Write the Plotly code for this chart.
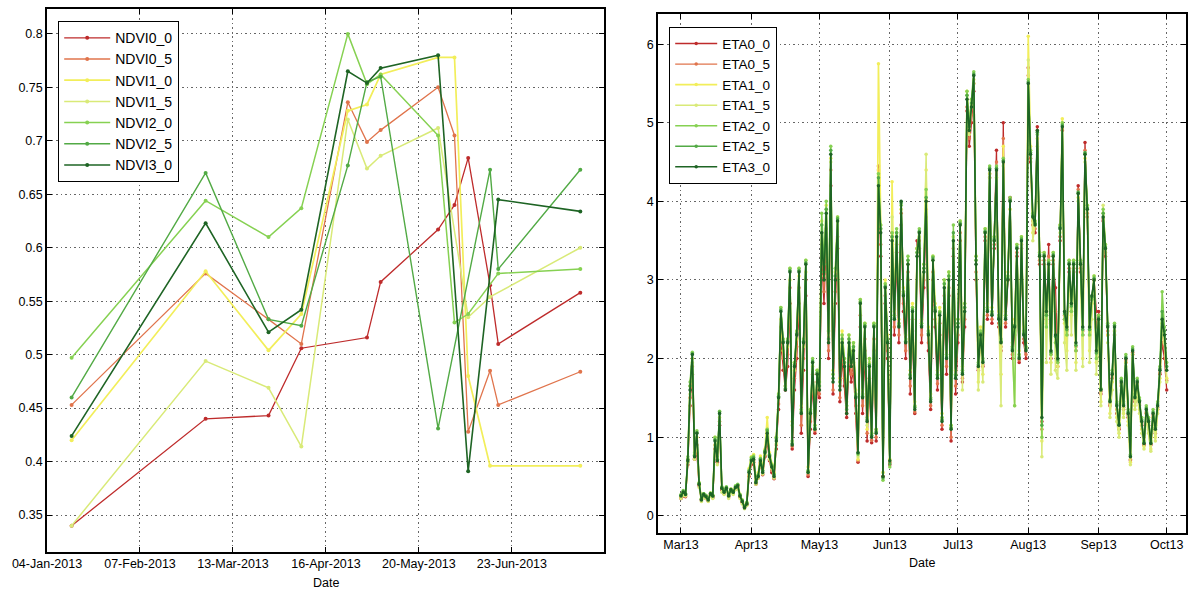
import plotly.graph_objects as go
import pandas as pd

# ---------------- NDVI (left panel) ----------------
ndvi_dates = ["2013-01-13", "2013-03-03", "2013-03-26", "2013-04-07", "2013-04-24",
              "2013-05-01", "2013-05-06", "2013-05-27", "2013-06-02", "2013-06-07",
              "2013-06-15", "2013-06-18", "2013-07-18"]
NDVI0_0 = [0.340, 0.440, 0.443, 0.506, None, 0.516, 0.568, 0.617, 0.640, 0.684, 0.565, 0.510, 0.558]
NDVI0_5 = [0.453, 0.576, 0.533, 0.510, 0.736, 0.699, 0.710, 0.750, 0.705, 0.428, 0.485, 0.453, 0.484]
NDVI1_0 = [0.420, 0.578, 0.504, 0.538, 0.728, 0.734, 0.762, 0.778, 0.778, 0.480, 0.396, None, 0.396]
NDVI1_5 = [0.340, 0.494, 0.469, 0.414, 0.720, 0.674, 0.686, 0.712, None, 0.535, 0.554, None, 0.600]
NDVI2_0 = [0.497, 0.644, 0.610, 0.637, 0.800, 0.753, 0.762, 0.705, 0.530, 0.538, None, 0.576, 0.580]
NDVI2_5 = [0.460, 0.670, 0.533, 0.527, 0.677, 0.755, 0.760, 0.431, None, None, 0.673, 0.580, 0.673]
NDVI3_0 = [0.424, 0.623, 0.521, 0.542, 0.765, 0.754, 0.768, 0.780, None, 0.391, None, 0.645, 0.634]

ndvi_names = ["NDVI0_0", "NDVI0_5", "NDVI1_0", "NDVI1_5", "NDVI2_0", "NDVI2_5", "NDVI3_0"]
ndvi_ticks = ["2013-01-04", "2013-02-07", "2013-03-13", "2013-04-16", "2013-05-20", "2013-06-23"]
ndvi_ticktext = ["04-Jan-2013", "07-Feb-2013", "13-Mar-2013", "16-Apr-2013", "20-May-2013", "23-Jun-2013"]
ndvi_yticks = [0.35, 0.4, 0.45, 0.5, 0.55, 0.6, 0.65, 0.7, 0.75, 0.8]
ndvi_yticktext = ["0.35", "0.4", "0.45", "0.5", "0.55", "0.6", "0.65", "0.7", "0.75", "0.8"]

# ---------------- ETA (right panel), daily from 2013-03-01 ----------------
eta_start = "2013-03-01"
ETA0_0 = [
    0.22,0.25,0.24,0.65,1.40,1.80,0.72,0.80,0.38,0.20,
    0.25,0.22,0.19,0.26,0.23,0.85,0.68,1.15,0.33,0.28,
    0.33,0.24,0.31,0.29,0.34,0.36,0.24,0.17,0.10,0.14,0.50,
    0.65,0.68,0.40,0.48,0.66,0.52,0.75,0.95,0.70,0.55,
    0.47,0.85,1.35,2.20,1.85,1.60,1.90,2.70,0.85,1.60,
    2.00,2.70,1.05,1.85,2.80,0.50,1.10,1.70,1.05,1.60,
    1.50,3.30,2.70,3.50,2.00,4.20,1.55,2.70,3.40,1.45,
    2.00,1.65,1.25,1.95,1.70,1.85,1.30,0.68,2.40,1.30,
    2.10,0.95,1.65,0.93,2.10,0.95,4.45,3.30,0.50,2.70,2.00,
    0.65,3.60,2.30,3.35,2.20,3.70,2.60,2.00,3.00,1.55,
    2.35,1.30,3.50,3.40,2.20,2.90,3.80,2.10,1.35,3.00,
    2.40,1.60,2.30,1.10,2.70,1.80,2.80,0.95,3.30,1.55,
    2.20,3.50,1.70,2.40,5.15,4.70,5.00,5.40,3.00,1.85,
    2.20,1.90,3.50,2.50,4.30,2.45,3.40,4.65,2.40,2.10,
    5.00,2.40,3.00,4.05,2.00,2.30,3.30,1.95,3.40,2.20,2.00,
    5.70,4.50,3.70,3.60,4.95,3.20,1.20,3.20,2.50,3.45,
    2.00,3.20,2.90,1.90,3.50,4.90,2.50,2.30,3.10,2.60,
    3.10,2.10,4.20,3.10,2.30,4.75,3.80,2.30,2.70,3.00,2.60,
    2.60,1.55,3.75,3.30,2.30,1.40,1.75,2.30,1.30,1.10,
    1.65,1.35,1.95,1.25,0.70,2.05,1.45,1.65,1.40,1.15,
    0.90,1.30,1.15,0.90,1.25,1.05,1.35,1.80,2.20,2.00,1.60,
]
ETA0_5 = [
    0.23,0.27,0.25,0.68,1.50,1.90,0.73,0.90,0.39,0.20,
    0.26,0.23,0.19,0.27,0.24,0.90,0.69,1.20,0.34,0.29,
    0.34,0.24,0.32,0.29,0.35,0.37,0.24,0.17,0.10,0.14,0.52,
    0.67,0.70,0.41,0.49,0.68,0.53,0.77,1.00,0.72,0.58,
    0.48,0.90,1.42,2.40,2.00,1.65,2.05,2.90,0.88,1.75,
    2.15,2.90,1.15,2.00,3.00,0.52,1.20,1.80,1.08,1.70,
    1.55,3.45,2.85,3.65,2.10,4.40,1.60,2.85,3.55,1.50,
    2.10,1.75,1.30,2.05,1.80,1.95,1.40,0.70,2.55,1.40,
    2.25,1.05,1.75,0.96,2.25,1.00,4.40,3.45,0.50,2.80,2.10,
    0.68,3.55,2.40,3.45,2.30,3.85,2.70,2.10,3.10,1.65,
    2.50,1.32,3.40,3.50,2.30,3.00,3.90,2.20,1.40,3.10,
    2.50,1.68,2.45,1.15,2.80,1.90,2.90,1.00,3.40,1.65,
    2.30,3.60,1.75,2.50,5.20,4.80,5.10,5.50,3.10,1.88,
    2.25,1.92,3.55,2.55,4.35,2.50,3.45,4.50,2.45,2.15,
    4.80,2.45,3.00,4.02,2.05,2.35,3.35,1.98,3.45,2.25,2.05,
    5.60,4.55,3.75,3.65,4.90,3.25,1.10,3.25,2.55,3.30,
    2.05,3.25,2.60,1.95,3.55,4.92,2.55,2.35,3.15,2.65,
    3.15,2.15,4.15,3.15,2.35,4.65,3.85,2.35,2.75,3.00,2.40,
    2.55,1.58,3.78,3.35,2.35,1.42,1.78,2.35,1.35,1.12,
    1.68,1.38,1.98,1.28,0.72,2.08,1.48,1.68,1.42,1.18,
    0.91,1.32,1.18,0.91,1.28,1.08,1.38,1.82,2.35,2.15,1.72,
]
ETA1_0 = [
    0.24,0.28,0.26,0.72,1.65,2.00,0.78,1.00,0.42,0.22,
    0.28,0.25,0.21,0.29,0.26,1.00,0.72,1.25,0.36,0.31,
    0.36,0.27,0.34,0.31,0.37,0.39,0.27,0.20,0.12,0.17,0.60,
    0.75,0.78,0.46,0.55,0.76,0.60,0.85,1.25,0.80,0.66,
    0.55,1.00,1.55,2.50,2.10,1.70,2.15,3.00,1.20,1.85,
    2.25,3.05,1.40,2.15,3.10,0.62,1.35,1.90,1.15,1.85,
    1.70,3.75,3.10,3.95,2.35,4.55,1.85,3.10,3.80,1.75,
    2.35,2.00,1.45,2.30,2.00,2.20,1.60,0.72,2.75,1.60,
    2.45,1.10,2.00,1.05,2.45,1.10,5.75,3.70,0.55,3.00,2.30,
    0.72,4.25,2.60,3.60,2.50,3.90,2.90,2.30,3.20,1.85,
    2.70,1.45,3.40,3.55,2.50,3.20,4.40,2.40,1.55,3.30,
    2.70,1.85,2.65,1.30,3.00,2.10,3.10,1.15,3.55,1.85,
    2.50,3.75,1.90,2.70,5.40,5.00,5.30,5.55,3.30,1.70,
    2.40,1.80,3.65,2.70,4.35,2.65,3.55,4.30,2.60,1.80,
    4.70,2.60,3.10,3.90,2.20,2.50,3.45,2.10,3.55,2.40,2.20,
    6.10,4.70,3.60,3.75,4.80,3.35,0.95,3.35,2.45,3.25,
    1.95,3.35,2.20,1.90,3.70,5.05,2.45,2.10,3.25,2.55,
    3.25,1.95,4.05,3.25,2.00,4.55,3.95,2.10,2.70,3.05,1.95,
    2.40,1.45,3.85,3.45,2.30,1.30,1.70,2.35,1.25,1.05,
    1.65,1.30,1.95,1.20,0.68,2.05,1.40,1.60,1.35,1.10,
    0.88,1.30,1.10,0.85,1.25,1.00,1.35,1.75,2.45,2.25,1.75,
]
ETA1_5 = [
    0.22,0.26,0.25,0.68,1.55,1.95,0.72,0.95,0.36,0.18,
    0.24,0.22,0.18,0.25,0.22,0.90,0.65,1.20,0.30,0.27,
    0.32,0.22,0.30,0.27,0.33,0.35,0.22,0.15,0.09,0.13,0.52,
    0.68,0.70,0.40,0.48,0.68,0.53,0.78,1.10,0.72,0.60,
    0.48,0.92,1.50,2.65,2.25,1.65,2.25,3.15,1.15,1.95,
    2.35,3.15,1.35,2.25,3.25,0.55,1.30,1.95,1.10,1.80,
    1.65,3.70,3.05,3.90,2.30,4.50,1.80,3.05,3.75,1.70,
    2.30,1.95,1.40,2.25,1.95,2.15,1.55,0.75,2.72,1.55,
    2.42,1.15,1.95,1.02,2.42,1.08,4.35,3.65,0.55,2.95,2.25,
    0.70,3.80,2.55,3.60,2.45,3.90,2.85,2.25,3.25,1.80,
    2.65,1.40,3.35,3.60,2.45,3.15,4.60,2.35,1.50,3.25,
    2.65,1.80,2.60,1.25,2.95,2.05,3.05,1.12,3.55,1.80,
    2.45,3.70,1.60,2.65,5.35,4.85,5.20,5.50,3.25,1.60,
    2.35,1.70,3.60,2.65,4.30,2.60,3.50,4.30,2.55,1.40,
    4.45,2.55,3.05,3.90,2.15,1.40,3.40,2.05,3.50,2.35,2.15,
    5.80,4.65,3.50,3.70,4.70,3.30,0.75,3.30,1.95,3.20,
    1.80,3.30,1.85,1.75,3.60,5.00,2.20,1.85,3.20,2.30,
    3.20,1.85,4.00,3.20,1.90,4.50,3.90,1.95,2.50,3.00,1.80,
    2.30,1.40,3.95,3.40,2.20,1.25,1.60,2.30,1.20,1.00,
    1.60,1.25,1.90,1.15,0.65,2.00,1.35,1.55,1.30,1.05,
    0.85,1.25,1.05,0.82,1.20,0.95,1.30,1.70,2.40,2.20,1.70,
]
ETA2_0 = [
    0.27,0.32,0.28,0.75,1.70,2.08,0.80,1.08,0.42,0.22,
    0.28,0.26,0.22,0.29,0.26,1.00,0.75,1.33,0.37,0.32,
    0.37,0.27,0.34,0.31,0.38,0.40,0.27,0.20,0.12,0.17,0.58,
    0.74,0.76,0.44,0.52,0.73,0.58,0.83,1.10,0.78,0.65,
    0.53,1.00,1.55,2.65,2.25,1.65,2.25,3.15,0.95,1.95,
    2.35,3.15,1.35,2.25,3.25,0.58,1.35,2.00,1.15,1.85,
    1.70,3.85,3.20,4.00,2.35,4.70,1.80,3.15,3.80,1.70,
    2.30,2.00,1.40,2.30,2.00,2.20,1.55,0.78,2.75,1.55,
    2.45,1.25,2.00,1.05,2.45,1.10,4.35,3.70,0.45,2.95,2.25,
    0.62,3.60,2.55,3.65,2.45,3.95,2.85,2.25,3.30,1.80,
    2.65,1.40,3.40,3.65,2.45,3.20,4.15,2.35,1.50,3.30,
    2.65,1.80,2.60,1.25,3.00,2.05,3.10,1.15,3.70,1.80,
    2.50,3.75,1.85,2.70,5.40,5.00,5.30,5.65,3.30,1.95,
    2.35,2.00,3.65,2.65,4.45,2.60,3.55,4.45,2.55,2.25,
    4.55,2.55,3.05,4.05,2.15,1.40,3.45,2.05,3.55,2.35,2.15,
    5.55,4.65,3.85,3.75,4.85,3.35,1.00,3.35,2.40,3.25,
    2.05,3.35,2.20,1.95,3.70,5.00,2.50,2.30,3.25,2.60,
    3.25,2.10,4.10,3.25,2.30,4.60,3.95,2.30,2.75,3.05,2.00,
    2.55,1.62,3.90,3.45,2.45,1.48,1.85,2.45,1.45,1.18,
    1.75,1.45,2.05,1.35,0.78,2.15,1.55,1.75,1.50,1.25,
    0.95,1.40,1.25,0.95,1.35,1.15,1.45,1.90,2.85,2.40,1.95,
]
ETA2_5 = [
    0.26,0.31,0.28,0.72,1.65,2.06,0.77,1.06,0.41,0.21,
    0.28,0.25,0.21,0.28,0.25,0.97,0.72,1.32,0.36,0.31,
    0.36,0.26,0.33,0.30,0.37,0.39,0.26,0.19,0.11,0.16,0.56,
    0.72,0.74,0.43,0.51,0.72,0.57,0.82,1.08,0.77,0.64,
    0.52,0.98,1.52,2.62,2.22,1.62,2.22,3.12,0.92,1.92,
    2.32,3.12,1.32,2.22,3.22,0.56,1.32,1.97,1.12,1.82,
    1.65,3.70,3.10,3.90,2.25,4.65,1.75,3.05,3.78,1.65,
    2.25,1.95,1.35,2.25,1.95,2.15,1.52,0.80,2.72,1.52,
    2.42,1.22,1.92,1.02,2.42,1.07,4.30,3.65,0.48,2.92,2.22,
    0.66,3.55,2.52,3.60,2.42,3.98,2.82,2.22,3.25,1.78,
    2.62,1.38,3.35,3.62,2.42,3.15,4.05,2.32,1.48,3.28,
    2.62,1.78,2.58,1.22,2.95,2.02,3.05,1.12,3.60,1.78,
    2.45,3.72,1.82,2.65,5.35,4.95,5.25,5.62,3.25,1.92,
    2.32,1.97,3.62,2.62,4.42,2.57,3.52,4.42,2.52,2.22,
    4.52,2.52,3.02,4.02,2.12,2.42,3.42,2.02,3.52,2.32,2.12,
    5.52,4.62,3.82,3.72,4.88,3.32,1.15,3.32,2.55,3.22,
    2.08,3.32,2.28,1.98,3.67,4.97,2.57,2.37,3.22,2.67,
    3.22,2.17,4.12,3.22,2.37,4.62,3.92,2.37,2.78,3.02,2.07,
    2.52,1.61,3.85,3.42,2.42,1.46,1.82,2.42,1.42,1.16,
    1.72,1.42,2.02,1.32,0.76,2.12,1.52,1.72,1.47,1.22,
    0.93,1.37,1.22,0.93,1.32,1.12,1.42,1.87,2.60,2.35,1.90,
]
ETA3_0 = [
    0.25,0.30,0.27,0.70,1.60,2.05,0.75,1.05,0.40,0.20,
    0.27,0.24,0.20,0.28,0.25,0.95,0.70,1.30,0.35,0.30,
    0.35,0.25,0.33,0.30,0.36,0.38,0.25,0.18,0.10,0.15,0.55,
    0.70,0.72,0.42,0.50,0.70,0.55,0.80,1.05,0.75,0.62,
    0.50,0.95,1.50,2.60,2.20,1.60,2.20,3.10,0.90,1.90,
    2.30,3.10,1.30,2.20,3.20,0.55,1.30,1.95,1.10,1.80,
    1.60,3.60,3.00,3.85,2.20,4.60,1.70,3.00,3.75,1.60,
    2.20,1.90,1.30,2.20,1.90,2.10,1.50,0.80,2.70,1.50,
    2.40,1.20,1.90,1.00,2.40,1.05,4.20,3.60,0.50,2.90,2.20,
    0.70,3.50,2.50,3.55,2.40,4.00,2.80,2.20,3.20,1.75,
    2.60,1.35,3.30,3.60,2.40,3.10,4.00,2.30,1.45,3.25,
    2.60,1.75,2.55,1.20,2.90,2.00,3.00,1.10,3.50,1.75,
    2.40,3.70,1.80,2.60,5.30,4.90,5.20,5.60,3.20,1.90,
    2.30,1.95,3.60,2.60,4.40,2.55,3.50,4.40,2.50,2.20,
    4.50,2.50,3.00,4.00,2.10,2.40,3.40,2.00,3.50,2.30,2.10,
    5.50,4.60,3.80,3.70,4.90,3.30,1.25,3.30,2.60,3.20,
    2.10,3.30,2.30,2.00,3.65,4.95,2.60,2.40,3.20,2.70,
    3.20,2.20,4.10,3.20,2.40,4.60,3.90,2.40,2.80,3.00,2.10,
    2.50,1.60,3.80,3.40,2.40,1.45,1.80,2.40,1.40,1.15,
    1.70,1.40,2.00,1.30,0.75,2.10,1.50,1.70,1.45,1.20,
    0.92,1.35,1.20,0.92,1.30,1.10,1.40,1.85,2.50,2.30,1.85,
]
eta_names = ["ETA0_0", "ETA0_5", "ETA1_0", "ETA1_5", "ETA2_0", "ETA2_5", "ETA3_0"]
eta_ticks = ["2013-03-01", "2013-04-01", "2013-05-01", "2013-06-01",
             "2013-07-01", "2013-08-01", "2013-09-01", "2013-10-01"]
eta_ticktext = ["Mar13", "Apr13", "May13", "Jun13", "Jul13", "Aug13", "Sep13", "Oct13"]
eta_yticks = [0, 1, 2, 3, 4, 5, 6]

# ---------------- styling ----------------
colors = ["#BE2B2B", "#E0744C", "#F2EE5A", "#D9EA78", "#86D152", "#52AA45", "#1E6424"]
widths = [1.3, 1.3, 1.7, 1.5, 1.5, 1.4, 1.6]
FONT = "Liberation Sans, Arial, sans-serif"

fig = go.Figure()

ndvi_series = [NDVI0_0, NDVI0_5, NDVI1_0, NDVI1_5, NDVI2_0, NDVI2_5, NDVI3_0]
for name, vals, c, w in zip(ndvi_names, ndvi_series, colors, widths):
    fig.add_trace(go.Scatter(
        x=pd.to_datetime(ndvi_dates), y=vals, name=name, mode="lines+markers",
        connectgaps=True, line=dict(color=c, width=w),
        marker=dict(size=4, color=c), xaxis="x", yaxis="y", legend="legend"))

eta_series = [ETA0_0, ETA0_5, ETA1_0, ETA1_5, ETA2_0, ETA2_5, ETA3_0]
for name, vals, c, w in zip(eta_names, eta_series, colors, widths):
    fig.add_trace(go.Scatter(
        x=pd.date_range(eta_start, periods=len(vals), freq="D"), y=vals, name=name,
        mode="lines+markers", line=dict(color=c, width=w),
        marker=dict(size=3.5, color=c), xaxis="x2", yaxis="y2", legend="legend2"))

axis_common = dict(
    automargin=False,
    showline=True, linecolor="black", linewidth=1.5, mirror="ticks",
    ticks="inside", ticklen=5, tickcolor="black", tickwidth=1,
    showgrid=True, gridcolor="rgba(0,0,0,0.6)", griddash="1.5px,3px", gridwidth=1,
    zeroline=False, tickfont=dict(family=FONT, size=12.5, color="black"),
)

fig.update_layout(
    width=1190, height=590,
    margin=dict(l=0, r=0, t=0, b=0, autoexpand=False),
    paper_bgcolor="white", plot_bgcolor="white",
    font=dict(family=FONT, color="black"),
    xaxis=dict(domain=[47 / 1190, 604 / 1190], anchor="y", type="date",
               range=["2013-01-04", "2013-07-26 16:00"],
               tickvals=ndvi_ticks, ticktext=ndvi_ticktext, **axis_common),
    yaxis=dict(domain=[(590 - 551.7) / 590, (590 - 9.3) / 590], anchor="x",
               range=[0.3157, 0.823], tickvals=ndvi_yticks, ticktext=ndvi_yticktext,
               **axis_common),
    xaxis2=dict(domain=[658 / 1190, 1186 / 1190], anchor="y2", type="date",
                range=["2013-02-18 21:00", "2013-10-09 12:00"],
                tickvals=eta_ticks, ticktext=eta_ticktext, **axis_common),
    yaxis2=dict(domain=[(590 - 532.7) / 590, (590 - 14.3) / 590], anchor="x2",
                range=[-0.216, 6.38], tickvals=eta_yticks, **axis_common),
    legend=dict(x=58 / 1190, y=1 - 21 / 590, xanchor="left", yanchor="top",
                bgcolor="white", bordercolor="black", borderwidth=1.2, itemwidth=46,
                font=dict(family=FONT, size=14, color="black"), tracegroupgap=0),
    legend2=dict(x=669 / 1190, y=1 - 27 / 590, xanchor="left", yanchor="top",
                 bgcolor="white", bordercolor="black", borderwidth=1.2, itemwidth=42,
                 font=dict(family=FONT, size=13.5, color="black"), tracegroupgap=0),
    showlegend=True,
    annotations=[
        dict(text="Date", x=(47 + 604) / 2 / 1190, y=(590 - 583) / 590, xref="paper",
             yref="paper", xanchor="center", yanchor="middle", showarrow=False,
             font=dict(family=FONT, size=12.5, color="black")),
        dict(text="Date", x=(658 + 1186) / 2 / 1190, y=(590 - 563) / 590, xref="paper",
             yref="paper", xanchor="center", yanchor="middle", showarrow=False,
             font=dict(family=FONT, size=12.5, color="black")),
    ],
)

fig.write_html("out.html")
